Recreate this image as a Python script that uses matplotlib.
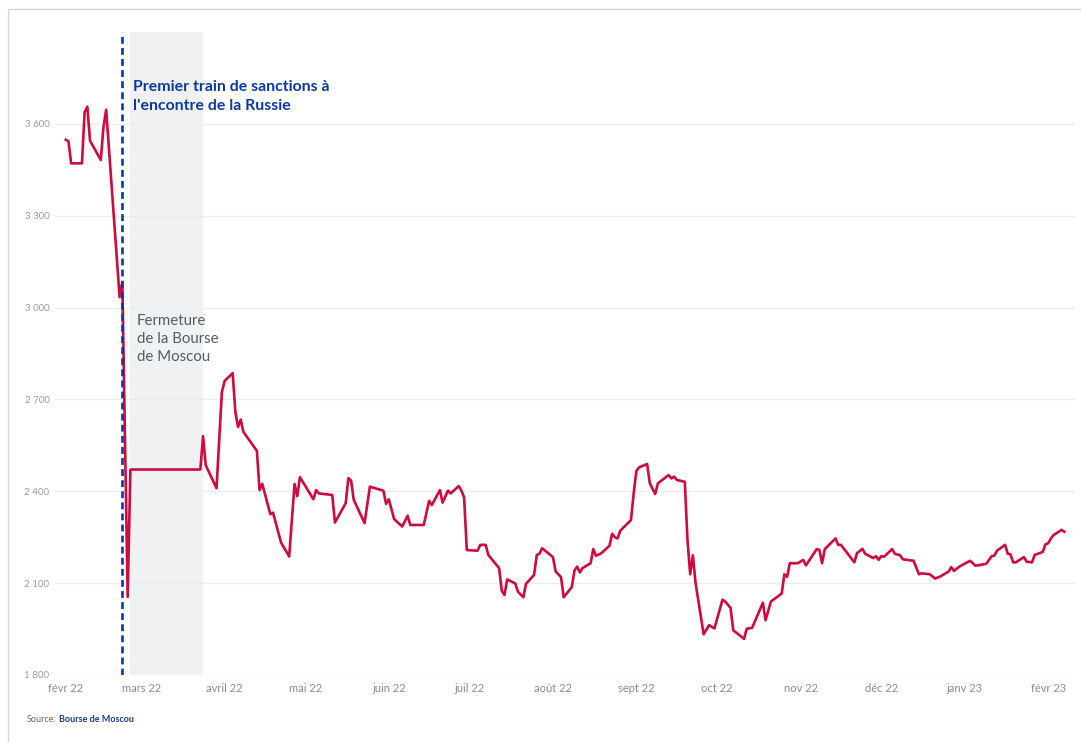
import matplotlib
matplotlib.use("Agg")
import matplotlib.pyplot as plt
from matplotlib.patches import Rectangle
from matplotlib.ticker import FuncFormatter
import pandas as pd

# Indice MOEX (Bourse de Moscou)
dates = [
    "2022-02-01", "2022-02-02", "2022-02-03", "2022-02-04", "2022-02-07", "2022-02-08",
    "2022-02-09", "2022-02-10", "2022-02-14", "2022-02-15", "2022-02-16", "2022-02-21",
    "2022-02-22", "2022-02-24", "2022-02-25", "2022-03-23", "2022-03-24", "2022-03-25",
    "2022-03-29", "2022-03-31", "2022-04-01", "2022-04-04", "2022-04-05", "2022-04-06",
    "2022-04-07", "2022-04-08", "2022-04-13", "2022-04-14", "2022-04-15", "2022-04-18",
    "2022-04-19", "2022-04-22", "2022-04-25", "2022-04-27", "2022-04-28", "2022-04-29",
    "2022-05-04", "2022-05-05", "2022-05-06", "2022-05-11", "2022-05-12", "2022-05-16",
    "2022-05-17", "2022-05-18", "2022-05-19", "2022-05-23", "2022-05-25", "2022-05-30",
    "2022-05-31", "2022-06-01", "2022-06-03", "2022-06-06", "2022-06-08", "2022-06-09",
    "2022-06-14", "2022-06-16", "2022-06-17", "2022-06-20", "2022-06-21", "2022-06-23",
    "2022-06-24", "2022-06-27", "2022-06-28", "2022-06-29", "2022-06-30", "2022-07-04",
    "2022-07-05", "2022-07-07", "2022-07-08", "2022-07-12", "2022-07-13", "2022-07-14",
    "2022-07-15", "2022-07-18", "2022-07-19", "2022-07-21", "2022-07-22", "2022-07-25",
    "2022-07-26", "2022-07-27", "2022-07-28", "2022-08-01", "2022-08-02", "2022-08-04",
    "2022-08-05", "2022-08-08", "2022-08-09", "2022-08-10", "2022-08-11", "2022-08-12",
    "2022-08-15", "2022-08-16", "2022-08-17", "2022-08-19", "2022-08-22", "2022-08-23",
    "2022-08-24", "2022-08-25", "2022-08-26", "2022-08-30", "2022-08-31", "2022-09-01",
    "2022-09-02", "2022-09-05", "2022-09-06", "2022-09-08", "2022-09-09", "2022-09-13",
    "2022-09-14", "2022-09-15", "2022-09-16", "2022-09-19", "2022-09-20", "2022-09-21",
    "2022-09-22", "2022-09-23", "2022-09-26", "2022-09-28", "2022-09-30", "2022-10-03",
    "2022-10-04", "2022-10-06", "2022-10-07", "2022-10-11", "2022-10-12", "2022-10-14",
    "2022-10-18", "2022-10-19", "2022-10-21", "2022-10-25", "2022-10-26", "2022-10-27",
    "2022-10-28", "2022-10-31", "2022-11-02", "2022-11-03", "2022-11-07", "2022-11-08",
    "2022-11-09", "2022-11-10", "2022-11-14", "2022-11-15", "2022-11-16", "2022-11-21",
    "2022-11-22", "2022-11-24", "2022-11-25", "2022-11-28", "2022-11-29", "2022-11-30",
    "2022-12-01", "2022-12-02", "2022-12-05", "2022-12-06", "2022-12-08", "2022-12-09",
    "2022-12-13", "2022-12-15", "2022-12-16", "2022-12-19", "2022-12-21", "2022-12-23",
    "2022-12-26", "2022-12-27", "2022-12-28", "2022-12-30", "2023-01-03", "2023-01-04",
    "2023-01-05", "2023-01-09", "2023-01-11", "2023-01-12", "2023-01-13", "2023-01-16",
    "2023-01-17", "2023-01-18", "2023-01-19", "2023-01-20", "2023-01-23", "2023-01-24",
    "2023-01-26", "2023-01-27", "2023-01-30", "2023-01-31", "2023-02-01", "2023-02-02",
    "2023-02-03", "2023-02-06", "2023-02-07",
]
values = [
    3548, 3543, 3471, 3471, 3471, 3638,
    3656, 3545, 3482, 3590, 3646, 3034,
    3083, 2055, 2471, 2471, 2580, 2485,
    2410, 2724, 2760, 2786, 2660, 2610,
    2634, 2594, 2532, 2404, 2424, 2325,
    2330, 2232, 2187, 2424, 2384, 2446,
    2374, 2404, 2393, 2388, 2298, 2361,
    2443, 2435, 2372, 2296, 2415, 2402,
    2359, 2374, 2309, 2285, 2320, 2290,
    2290, 2369, 2355, 2404, 2363, 2402,
    2393, 2417, 2402, 2380, 2208, 2206,
    2225, 2225, 2192, 2149, 2075, 2061,
    2112, 2099, 2072, 2054, 2098, 2127,
    2192, 2196, 2214, 2185, 2138, 2120,
    2054, 2087, 2141, 2154, 2135, 2149,
    2165, 2211, 2189, 2198, 2222, 2261,
    2250, 2246, 2271, 2306, 2393, 2466,
    2478, 2489, 2426, 2391, 2426, 2453,
    2442, 2448, 2437, 2431, 2240, 2129,
    2191, 2100, 1933, 1963, 1952, 2046,
    2040, 2019, 1946, 1918, 1951, 1954,
    2036, 1979, 2040, 2066, 2129, 2120,
    2165, 2165, 2176, 2158, 2211, 2209,
    2165, 2211, 2246, 2225, 2225, 2168,
    2198, 2212, 2196, 2182, 2188, 2176,
    2188, 2186, 2211, 2196, 2191, 2178,
    2173, 2129, 2132, 2129, 2115, 2122,
    2138, 2152, 2140, 2154, 2173, 2165,
    2157, 2163, 2188, 2190, 2206, 2225,
    2196, 2194, 2168, 2168, 2185, 2170,
    2168, 2192, 2202, 2227, 2230, 2246,
    2257, 2274, 2268,
]

month_ticks = ["2022-02-01", "2022-03-01", "2022-04-01", "2022-05-01", "2022-06-01",
               "2022-07-01", "2022-08-01", "2022-09-01", "2022-10-01", "2022-11-01",
               "2022-12-01", "2023-01-01", "2023-02-01"]
month_labels = ["févr 22", "mars 22", "avril 22", "mai 22", "juin 22", "juil 22",
                "août 22", "sept 22", "oct 22", "nov 22", "déc 22", "janv 23", "févr 23"]
y_ticks = [1800, 2100, 2400, 2700, 3000, 3300, 3600]

sanctions_date = "2022-02-22"
closure_start, closure_end = "2022-02-25", "2022-03-24"

plt.rcParams['font.family'] = ['Lato', 'DejaVu Sans']

x = pd.to_datetime(dates)

fig = plt.figure(figsize=(10.81, 7.42), dpi=100)
ax = fig.add_axes([0.0509, 0.0903, 0.9436, 0.8666])

# zone grise : fermeture de la bourse
ax.axvspan(pd.Timestamp(closure_start), pd.Timestamp(closure_end),
           color='#f0f1f3', lw=0, zorder=0)
ax.axvline(pd.Timestamp(sanctions_date), color='#0b3a9e', lw=1.9,
           linestyle=(0, (2.6, 1.6)), zorder=3)
ax.plot(x, values, color='#cf0a3c', lw=1.9, zorder=2)

ax.set_ylim(1800, 3900)
ax.set_xlim(pd.Timestamp("2022-01-28"), pd.Timestamp("2023-02-11"))
ax.set_yticks(y_ticks)
ax.yaxis.set_major_formatter(FuncFormatter(lambda v, p: f"{int(v):,}".replace(",", " ")))
ax.set_xticks(pd.to_datetime(month_ticks))
ax.set_xticklabels(month_labels)
ax.grid(axis='y', color='#ececec', lw=1)
ax.grid(axis='x', visible=False)
ax.set_axisbelow(True)
for s in ax.spines.values():
    s.set_visible(False)
ax.tick_params(axis='y', length=0, pad=4, labelsize=7, labelcolor='#9a9a9a')
ax.tick_params(axis='x', length=0, pad=6, labelsize=8, labelcolor='#8a8a8a')

ax.text(pd.Timestamp("2022-02-26"), 3742, "Premier train de sanctions à\nl'encontre de la Russie",
        color='#0b3a9e', fontsize=11.4, fontweight='bold', va='top', ha='left',
        linespacing=1.42)
ax.text(pd.Timestamp("2022-02-27 12:00"), 2979, "Fermeture\nde la Bourse\nde Moscou",
        color='#555b61', fontsize=10.8, va='top', ha='left', linespacing=1.35)

fig.text(27 / 1081, 1 - 719 / 742, "Source:", color='#6a6a6a', fontsize=6.5, va='center')
fig.text(59 / 1081, 1 - 719 / 742, "Bourse de Moscou", color='#1a3b8f', fontsize=6.5,
         fontweight='bold', va='center')

fig.patches.append(Rectangle((8 / 1081, -0.1), 2, 1.1 - 9 / 742, transform=fig.transFigure,
                             fill=False, edgecolor='#cddcdf', lw=1))

fig.savefig("out.png", dpi=100)
